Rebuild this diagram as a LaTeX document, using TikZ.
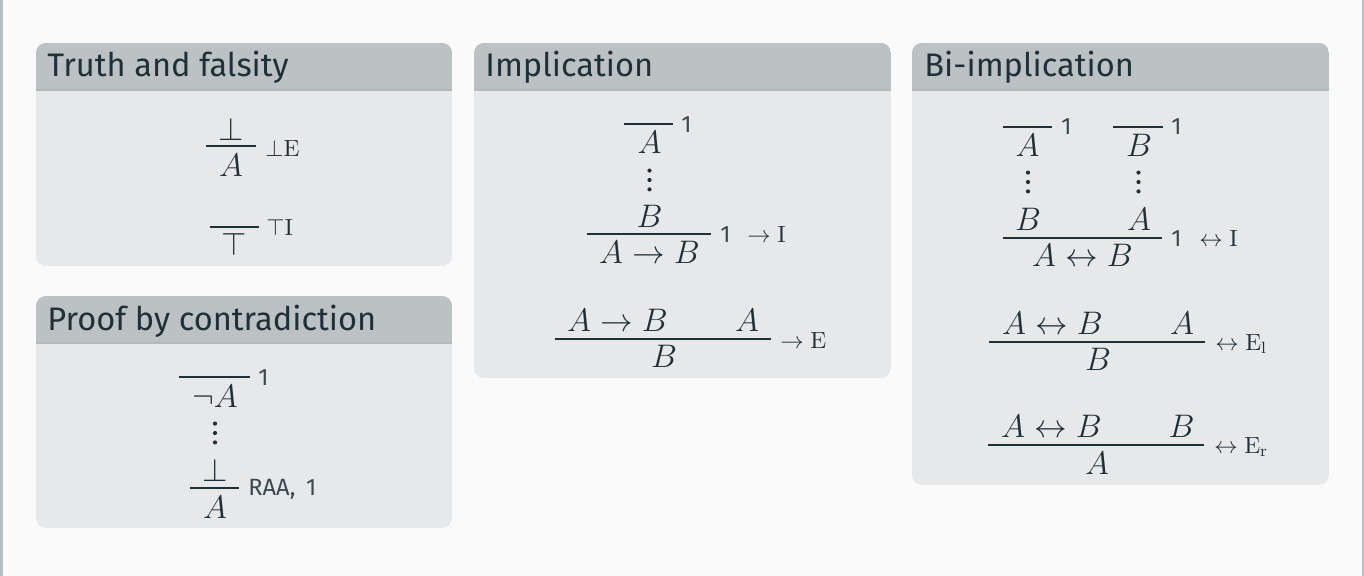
\RequirePackage{fix-cm}
\documentclass[tikz,border=0pt]{standalone}
\usepackage[no-math]{fontspec}
\newfontfamily\fira{Fira Sans}
\definecolor{bgc}{HTML}{FAFAFA}
\definecolor{panelc}{HTML}{E7E8E9}
\definecolor{headc}{HTML}{BCC1C3}
\definecolor{shadec}{HTML}{B3B8BA}
\definecolor{edgec}{HTML}{B9BDC5}
\definecolor{ink}{HTML}{1F3038}
\newcommand{\mypanel}[4]{%
  \begin{scope}
    \clip[rounded corners=5pt] (#1,#2) rectangle (#3,#4);
    \fill[panelc] (#1,#2) rectangle (#3,#4);
    \fill[shadec] (#1,#2+45) rectangle (#3,#2+48);
    \fill[headc] (#1,#2) rectangle (#3,#2+46);
  \end{scope}}
\newcommand{\threedots}[2]{%
  \fill[ink] (#1,#2-9.4) circle[radius=2.1];
  \fill[ink] (#1,#2) circle[radius=2.1];
  \fill[ink] (#1,#2+9.4) circle[radius=2.1];}
\tikzset{
  fml/.style={anchor=base, inner sep=0pt, text=ink, font=\fontsize{16.3}{19}\selectfont},
  rulelbl/.style={anchor=west, inner sep=0pt, text=ink, font=\fontsize{11.7}{13}\selectfont},
  numlbl/.style={anchor=west, inner sep=0pt, text=ink!88, font=\fira\fontsize{11.8}{13}\selectfont},
  ttl/.style={anchor=base west, inner sep=0pt, text=ink, font=\fira\fontsize{16.3}{20}\selectfont},
  infer/.style={draw=ink, line width=0.65pt},
}
\begin{document}
\begin{tikzpicture}[x=0.5pt,y=-0.5pt]
\useasboundingbox (0,0) rectangle (1364,576);
\fill[bgc] (0,0) rectangle (1364,576);
\fill[edgec] (0,0) rectangle (2.5,576);
\fill[edgec] (1361.5,0) rectangle (1364,576);

\mypanel{36}{43}{452}{266}
\mypanel{36}{296}{452}{528}
\mypanel{474}{43}{891}{378}
\mypanel{912}{43}{1329}{485}

\node[ttl] (t1) at (47,77) {Truth and falsity};
\node[ttl] (t2) at (47,331) {Proof by contradiction};
\node[ttl] (t3) at (485,77) {Implication};
\node[ttl] (t4) at (924,77) {Bi-implication};

% ---- Truth and falsity
\node[fml] (fa1) at (231,141) {$\bot$};
\coordinate (fl1a) at (206,146); \coordinate (fl1b) at (256,146);
\draw[infer] (fl1a) -- (fl1b);
\node[fml] (fa2) at (231,177) {$A$};
\node[rulelbl] (fal) at (265,148) {$\bot\mathrm{E}$};

\coordinate (tl1a) at (210,227); \coordinate (tl1b) at (259,227);
\draw[infer] (tl1a) -- (tl1b);
\node[fml] (tt) at (234.5,256) {$\top$};
\node[rulelbl] (ttl) at (266,227) {$\top\mathrm{I}$};

% ---- Proof by contradiction
\coordinate (rl1a) at (179,377); \coordinate (rl1b) at (250,377);
\draw[infer] (rl1a) -- (rl1b);
\node[numlbl] (rn1) at (258,378) {1};
\node[fml] (rna) at (215,408) {$\neg A$};
\threedots{215}{433}
\node[fml] (rbot) at (215,481) {$\bot$};
\coordinate (rl2a) at (190,488); \coordinate (rl2b) at (239,488);
\draw[infer] (rl2a) -- (rl2b);
\node[fml] (ra) at (215,518) {$A$};
\node[numlbl] (rlab) at (248,489) {RAA,\hspace{0.45em}1};

% ---- Implication
\coordinate (il1a) at (624,124); \coordinate (il1b) at (673,124);
\draw[infer] (il1a) -- (il1b);
\node[numlbl] (in1) at (681,125) {1};
\node[fml] (ia) at (649.5,154) {$A$};
\threedots{649.5}{180}
\node[fml] (ib) at (649.5,228) {$B$};
\coordinate (il2a) at (587,234); \coordinate (il2b) at (711,234);
\draw[infer] (il2a) -- (il2b);
\node[fml] (iab) at (649.5,264) {$A\rightarrow B$};
\node[numlbl] (in2) at (720,235) {1};
\node[rulelbl] (iil) at (747,235) {$\rightarrow\mathrm{I}$};

\node[fml] (ep1) at (617.5,332) {$A\rightarrow B$};
\node[fml] (ep2) at (747,332) {$A$};
\coordinate (el1a) at (555,339); \coordinate (el1b) at (771,339);
\draw[infer] (el1a) -- (el1b);
\node[fml] (ec) at (664,368) {$B$};
\node[rulelbl] (eel) at (780,341) {$\rightarrow\mathrm{E}$};

% ---- Bi-implication
\coordinate (bl1a) at (1003,127); \coordinate (bl1b) at (1052,127);
\draw[infer] (bl1a) -- (bl1b);
\node[numlbl] (bn1) at (1061,127) {1};
\coordinate (bl2a) at (1113,127); \coordinate (bl2b) at (1163,127);
\draw[infer] (bl2a) -- (bl2b);
\node[numlbl] (bn2) at (1171,127) {1};
\node[fml] (ba1) at (1027.5,157) {$A$};
\node[fml] (bb1) at (1139,157) {$B$};
\threedots{1028}{182}
\threedots{1138.5}{182}
\node[fml] (bb2) at (1028,231) {$B$};
\node[fml] (ba2) at (1139,231) {$A$};
\coordinate (bl3a) at (1003,238); \coordinate (bl3b) at (1162,238);
\draw[infer] (bl3a) -- (bl3b);
\node[fml] (bab) at (1082.5,267) {$A\leftrightarrow B$};
\node[numlbl] (bn3) at (1171,239) {1};
\node[rulelbl] (bil) at (1199,239) {$\leftrightarrow\mathrm{I}$};

\node[fml] (lp1) at (1052.5,335) {$A\leftrightarrow B$};
\node[fml] (lp2) at (1182,335) {$A$};
\coordinate (ll1a) at (989,342); \coordinate (ll1b) at (1205,342);
\draw[infer] (ll1a) -- (ll1b);
\node[fml] (lc) at (1098,371) {$B$};
\node[rulelbl] (lel) at (1215,344) {$\leftrightarrow\mathrm{E}_{\mathrm{l}}$};

\node[fml] (rp1) at (1051.5,438) {$A\leftrightarrow B$};
\node[fml] (rp2) at (1181.5,438) {$B$};
\coordinate (rr1a) at (988,445); \coordinate (rr1b) at (1204,445);
\draw[infer] (rr1a) -- (rr1b);
\node[fml] (rc) at (1097,474) {$A$};
\node[rulelbl] (rel) at (1214,447) {$\leftrightarrow\mathrm{E}_{\mathrm{r}}$};
\end{tikzpicture}
\end{document}
